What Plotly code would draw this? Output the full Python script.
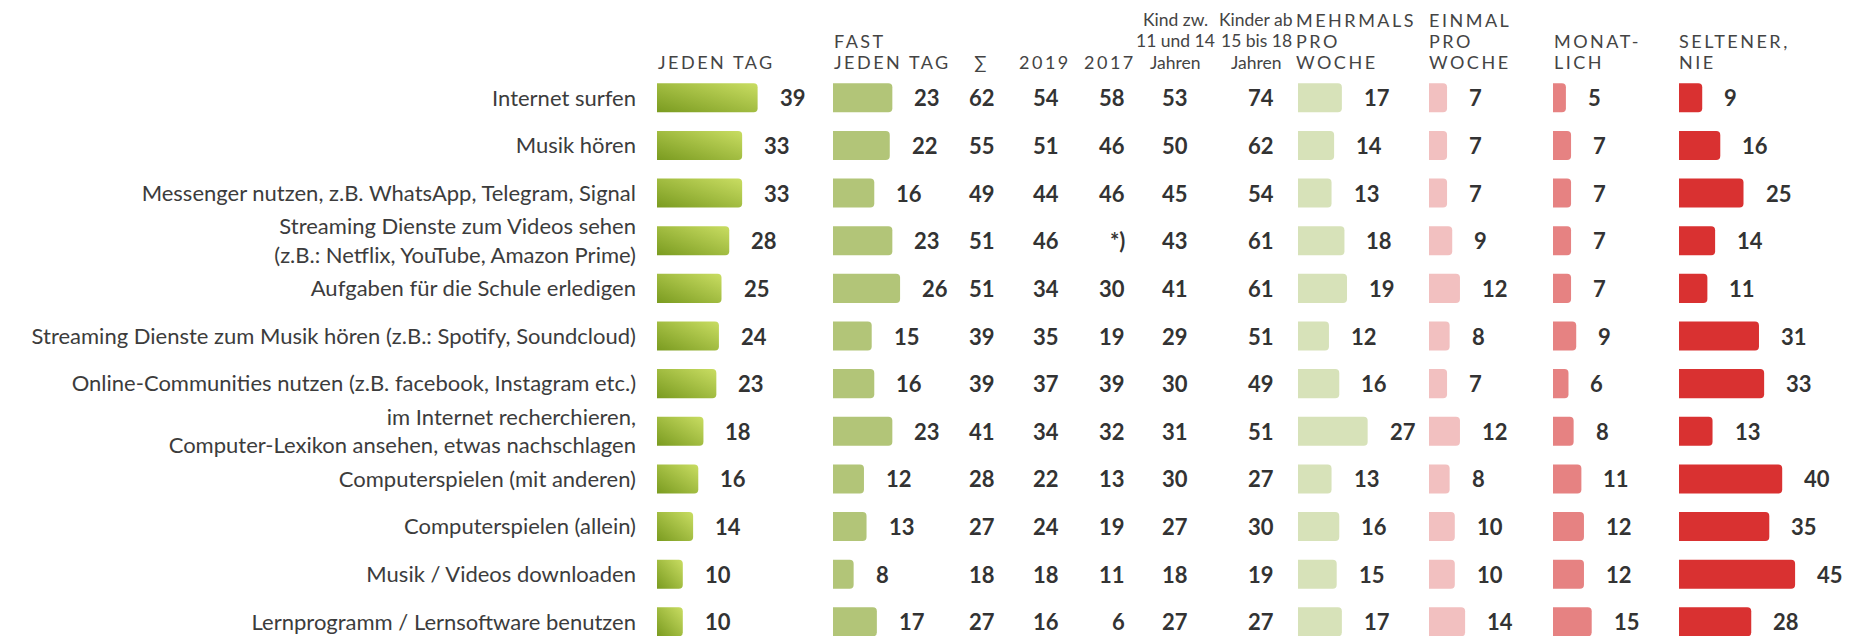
import plotly.graph_objects as go

# ---------------- data ----------------
categories = [
    "Internet surfen",
    "Musik hören",
    "Messenger nutzen, z.B. WhatsApp, Telegram, Signal",
    "Streaming Dienste zum Videos sehen<br>(z.B.: Netflix, YouTube, Amazon Prime)",
    "Aufgaben für die Schule erledigen",
    "Streaming Dienste zum Musik hören (z.B.: Spotify, Soundcloud)",
    "Online-Communities nutzen (z.B. facebook, Instagram etc.)",
    "im Internet recherchieren,<br>Computer-Lexikon ansehen, etwas nachschlagen",
    "Computerspielen (mit anderen)",
    "Computerspielen (allein)",
    "Musik / Videos downloaden",
    "Lernprogramm / Lernsoftware benutzen",
]
jeden_tag = [39, 33, 33, 28, 25, 24, 23, 18, 16, 14, 10, 10]
fast_jeden_tag = [23, 22, 16, 23, 26, 15, 16, 23, 12, 13, 8, 17]
summe = [62, 55, 49, 51, 51, 39, 39, 41, 28, 27, 18, 27]
jahr_2019 = [54, 51, 44, 46, 34, 35, 37, 34, 22, 24, 18, 16]
jahr_2017 = [58, 46, 46, None, 30, 19, 39, 32, 13, 19, 11, 6]
kind_11_14 = [53, 50, 45, 43, 41, 29, 30, 31, 30, 27, 18, 27]
kinder_15_18 = [74, 62, 54, 61, 61, 51, 49, 51, 27, 30, 19, 27]
mehrmals_pro_woche = [17, 14, 13, 18, 19, 12, 16, 27, 13, 16, 15, 17]
einmal_pro_woche = [7, 7, 7, 9, 12, 8, 7, 12, 8, 10, 10, 14]
monatlich = [5, 7, 7, 7, 7, 9, 6, 8, 11, 12, 12, 15]
seltener_nie = [9, 16, 25, 14, 11, 31, 33, 13, 40, 35, 45, 28]
missing_label = "*)"

bar_headers = [
    ["JEDEN TAG"],
    ["FAST", "JEDEN TAG"],
    ["MEHRMALS", "PRO", "WOCHE"],
    ["EINMAL", "PRO", "WOCHE"],
    ["MONAT-", "LICH"],
    ["SELTENER,", "NIE"],
]
num_headers = [
    (["∑"], True),
    (["2019"], True),
    (["2017"], True),
    (["Kind zw.", "11 und 14", "Jahren"], False),
    (["Kinder ab", "15 bis 18", "Jahren"], False),
]

# ---------------- layout constants ----------------
W, H = 1856, 636
TOP = 74
ROW_PX = 47.636
PXU = 2.58            # pixels per percentage point
SPAN = 120            # pixel width of each bar subplot
bar_starts = [657, 833, 1298, 1429, 1553, 1679]
header_shift = [-1, -1, -4, -2, -1, -2]
bar_colors = ["#8fac2c", "#b2c578", "#d7e2b9", "#f2c0c0", "#e68282", "#d93131"]
grad_dark, grad_light = "#7a9b20", "#c9dd62"
num_right = [997, 1061, 1127, 1190, 1276]
num_center = [981, 1045, 1110, 1175, 1256]
header_line_y = [20, 41, 62]

FONT = "Lato"
TEXT_DARK = "#333333"
TEXT_MID = "#444444"

plot_h = H - TOP
y_bottom = -0.5 + plot_h / ROW_PX


def py(p):
    """pixel (from top) -> paper y"""
    return 1 + (TOP - p) / plot_h


def spaced(t, sp=2.5):
    return f'<span style="letter-spacing:{sp}px">{t}</span>'


bar_series = [jeden_tag, fast_jeden_tag, mehrmals_pro_woche,
              einmal_pro_woche, monatlich, seltener_nie]
num_series = [summe, jahr_2019, jahr_2017, kind_11_14, kinder_15_18]

fig = go.Figure()
annotations = []

for k, (vals, col, start) in enumerate(zip(bar_series, bar_colors, bar_starts)):
    xa = "x" if k == 0 else f"x{k + 1}"
    fig.add_trace(go.Bar(
        x=vals, y=categories, orientation="h",
        marker=dict(color=col, cornerradius=4, line=dict(width=0)),
        width=0.61, xaxis=xa, yaxis="y", hoverinfo="skip", showlegend=False,
    ))
    lay_key = "xaxis" if k == 0 else f"xaxis{k + 1}"
    fig.layout[lay_key] = dict(
        domain=[start / W, (start + SPAN) / W], range=[0, SPAN / PXU],
        visible=False, anchor="y", fixedrange=True,
    )
    for v, c in zip(vals, categories):
        annotations.append(dict(
            x=v, y=c, xref=xa, yref="y", xanchor="left", yanchor="middle",
            xshift=20, text=str(v), showarrow=False,
            font=dict(family=FONT, size=22, color=TEXT_DARK, weight=700),
        ))
    lines = bar_headers[k]
    for j, line in enumerate(lines):
        yy = header_line_y[3 - len(lines) + j]
        annotations.append(dict(
            x=start / W, y=py(yy), xref="paper", yref="paper",
            xanchor="left", yanchor="middle", xshift=header_shift[k], text=spaced(line),
            showarrow=False, font=dict(family=FONT, size=18, color=TEXT_MID),
        ))

for vals, xr, xc, (lines, sp) in zip(num_series, num_right, num_center, num_headers):
    for v, c in zip(vals, categories):
        annotations.append(dict(
            x=xr / W, y=c, xref="paper", yref="y", xanchor="right", yanchor="middle",
            text=missing_label if v is None else str(v), showarrow=False,
            font=dict(family=FONT, size=22, color=TEXT_DARK, weight=700),
        ))
    for j, line in enumerate(lines):
        yy = header_line_y[3 - len(lines) + j]
        annotations.append(dict(
            x=xc / W, y=py(yy), xref="paper", yref="paper",
            xanchor="center", yanchor="middle",
            text=spaced(line) if sp else line, showarrow=False,
            font=dict(family=FONT, size=18 if sp else 17.5, color=TEXT_MID),
        ))

fig.update_layout(
    width=W, height=H,
    margin=dict(l=0, r=0, t=TOP, b=0, pad=0),
    paper_bgcolor="white", plot_bgcolor="white",
    font=dict(family=FONT, color=TEXT_MID),
    bargap=0.39,
    yaxis=dict(
        categoryorder="array", categoryarray=categories,
        range=[y_bottom, -0.5], autorange=False, anchor="x",
        showgrid=False, zeroline=False, showline=False, ticks="",
        ticklabelstandoff=20, fixedrange=True,
        tickfont=dict(family=FONT, size=22, color="#3c3c3c"),
    ),
    annotations=annotations,
)

post = """
(function(){
document.body.style.margin='0';
document.body.style.overflow='hidden';
var gd=document.getElementById('{plot_id}');
function applyGrad(){
  var svg=gd.querySelector('svg.main-svg');
  if(!svg) return;
  var ns='http://www.w3.org/2000/svg';
  var defs=svg.querySelector('defs');
  if(!defs){defs=document.createElementNS(ns,'defs');svg.insertBefore(defs,svg.firstChild);}
  if(!svg.querySelector('#jtgrad')){
    var lg=document.createElementNS(ns,'linearGradient');
    lg.setAttribute('id','jtgrad');
    lg.setAttribute('x1','0');lg.setAttribute('y1','1');lg.setAttribute('x2','1');lg.setAttribute('y2','0');
    [['0','GDARK'],['1','GLIGHT']].forEach(function(s){
      var st=document.createElementNS(ns,'stop');
      st.setAttribute('offset',s[0]);st.setAttribute('stop-color',s[1]);lg.appendChild(st);
    });
    defs.appendChild(lg);
  }
  gd.querySelectorAll('.subplot.xy .barlayer path').forEach(function(p){p.style.fill='url(#jtgrad)';});
}
applyGrad();
if(gd.on){gd.on('plotly_afterplot',applyGrad);}
})();
""".replace("GDARK", grad_dark).replace("GLIGHT", grad_light)

fig.write_html("out.html", post_script=post, config={"displayModeBar": False})
